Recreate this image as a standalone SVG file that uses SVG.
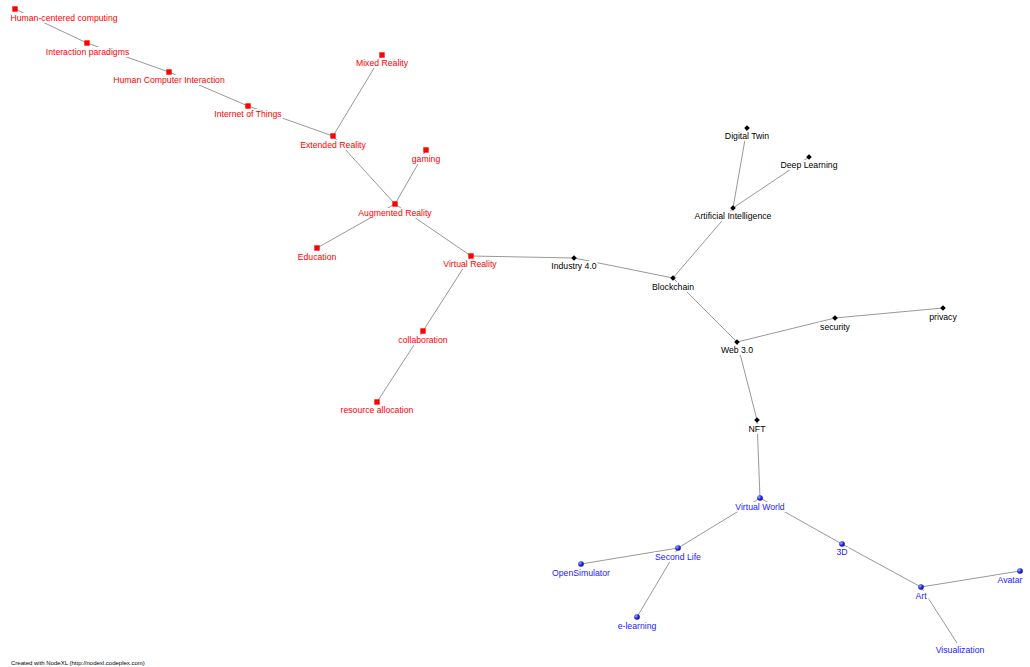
<svg xmlns="http://www.w3.org/2000/svg" xmlns:xlink="http://www.w3.org/1999/xlink" width="1030" height="667" viewBox="0 0 1030 667">
<style>
text{font-family:"Liberation Sans",Arial,sans-serif;font-size:8.7px;text-anchor:middle}
.bgl{fill:#ffffff}
.r text{fill:#ff0000}
.k text{fill:#000000}
.b text{fill:#1a1aff}
#edges line{stroke:#999999;stroke-width:1}
.credit{font-size:6px;text-anchor:start;fill:#000}
</style>
<defs>
<rect id="sq" x="-2.7" y="-2.7" width="5.4" height="5.4" fill="#ff0000"/>
<path id="dm" d="M0,-2.8L2.8,0L0,2.8L-2.8,0Z" fill="#000"/>
<radialGradient id="bg" cx="0.35" cy="0.35" r="0.7"><stop offset="0" stop-color="#aab0ff"/><stop offset="0.5" stop-color="#2233ee"/><stop offset="1" stop-color="#00008a"/></radialGradient>
<circle id="sp" r="2.8" fill="url(#bg)"/>
</defs>
<rect width="1030" height="667" fill="#fff"/>
<g id="edges">
<line x1="15" y1="9" x2="87" y2="43"/>
<line x1="87" y1="43" x2="169" y2="72"/>
<line x1="169" y1="72" x2="248" y2="106"/>
<line x1="248" y1="106" x2="333" y2="136"/>
<line x1="382" y1="55" x2="333" y2="136"/>
<line x1="333" y1="136" x2="395" y2="204"/>
<line x1="426" y1="150" x2="395" y2="204"/>
<line x1="395" y1="204" x2="317" y2="248"/>
<line x1="395" y1="204" x2="471" y2="256"/>
<line x1="471" y1="256" x2="423" y2="331"/>
<line x1="423" y1="331" x2="377" y2="402"/>
<line x1="471" y1="256" x2="574" y2="258"/>
<line x1="574" y1="258" x2="673" y2="278"/>
<line x1="673" y1="278" x2="733" y2="208"/>
<line x1="733" y1="208" x2="747" y2="128"/>
<line x1="733" y1="208" x2="809" y2="157"/>
<line x1="673" y1="278" x2="737" y2="342"/>
<line x1="737" y1="342" x2="835" y2="318"/>
<line x1="835" y1="318" x2="943" y2="308"/>
<line x1="737" y1="342" x2="757" y2="420"/>
<line x1="757" y1="420" x2="760" y2="498"/>
<line x1="760" y1="498" x2="678" y2="548"/>
<line x1="678" y1="548" x2="581" y2="564"/>
<line x1="678" y1="548" x2="637" y2="617"/>
<line x1="760" y1="498" x2="842" y2="544"/>
<line x1="842" y1="544" x2="921" y2="587"/>
<line x1="921" y1="587" x2="1020" y2="571"/>
<line x1="921" y1="587" x2="957" y2="643"/>
</g>
<g class="r">
<g id="n-hcc"><rect class="bgl" x="9.5" y="13" width="109" height="10"/><use href="#sq" x="15" y="9"/><text x="64" y="21">Human-centered computing</text></g>
<g id="n-ip"><rect class="bgl" x="45" y="47" width="85" height="10"/><use href="#sq" x="87" y="43"/><text x="87.5" y="55">Interaction paradigms</text></g>
<g id="n-hci"><rect class="bgl" x="112.5" y="75" width="113" height="10"/><use href="#sq" x="169" y="72"/><text x="169" y="83">Human Computer Interaction</text></g>
<g id="n-iot"><rect class="bgl" x="213.5" y="109" width="69" height="10"/><use href="#sq" x="248" y="106"/><text x="248" y="117">Internet of Things</text></g>
<g id="n-mr"><rect class="bgl" x="355" y="58" width="54" height="10"/><use href="#sq" x="382" y="55"/><text x="382" y="66">Mixed Reality</text></g>
<g id="n-er"><rect class="bgl" x="299.5" y="140" width="67" height="10"/><use href="#sq" x="333" y="136"/><text x="333" y="148">Extended Reality</text></g>
<g id="n-gaming"><rect class="bgl" x="411" y="154" width="30" height="10"/><use href="#sq" x="426" y="150"/><text x="426" y="162">gaming</text></g>
<g id="n-ar"><rect class="bgl" x="357.5" y="208" width="75" height="10"/><use href="#sq" x="395" y="204"/><text x="395" y="216">Augmented Reality</text></g>
<g id="n-edu"><rect class="bgl" x="296.5" y="252" width="41" height="10"/><use href="#sq" x="317" y="248"/><text x="317" y="260">Education</text></g>
<g id="n-vr"><rect class="bgl" x="442" y="259" width="56" height="10"/><use href="#sq" x="471" y="256"/><text x="470" y="267">Virtual Reality</text></g>
<g id="n-collab"><rect class="bgl" x="397.5" y="335" width="51" height="10"/><use href="#sq" x="423" y="331"/><text x="423" y="343">collaboration</text></g>
<g id="n-ra"><rect class="bgl" x="339.5" y="405" width="75" height="10"/><use href="#sq" x="377" y="402"/><text x="377" y="413">resource allocation</text></g>
</g>
<g class="k">
<g id="n-ind"><rect class="bgl" x="550.5" y="261" width="47" height="10"/><use href="#dm" x="574" y="258"/><text x="574" y="269">Industry 4.0</text></g>
<g id="n-bc"><rect class="bgl" x="650.5" y="282" width="45" height="10"/><use href="#dm" x="673" y="278"/><text x="673" y="290">Blockchain</text></g>
<g id="n-ai"><rect class="bgl" x="693.5" y="211" width="79" height="10"/><use href="#dm" x="733" y="208"/><text x="733" y="219">Artificial Intelligence</text></g>
<g id="n-dt"><rect class="bgl" x="723.5" y="131" width="47" height="10"/><use href="#dm" x="747" y="128"/><text x="747" y="139">Digital Twin</text></g>
<g id="n-dl"><rect class="bgl" x="780" y="160" width="58" height="10"/><use href="#dm" x="809" y="157"/><text x="809" y="168">Deep Learning</text></g>
<g id="n-web3"><rect class="bgl" x="720" y="345" width="34" height="10"/><use href="#dm" x="737" y="342"/><text x="737" y="353">Web 3.0</text></g>
<g id="n-sec"><rect class="bgl" x="818.5" y="322" width="33" height="10"/><use href="#dm" x="835" y="318"/><text x="835" y="330">security</text></g>
<g id="n-priv"><rect class="bgl" x="928" y="312" width="30" height="10"/><use href="#dm" x="943" y="308"/><text x="943" y="320">privacy</text></g>
<g id="n-nft"><rect class="bgl" x="747.5" y="424" width="19" height="10"/><use href="#dm" x="757" y="420"/><text x="757" y="432">NFT</text></g>
</g>
<g class="b">
<g id="n-vw"><rect class="bgl" x="734" y="502" width="52" height="10"/><use href="#sp" x="760" y="498"/><text x="760" y="510">Virtual World</text></g>
<g id="n-sl"><rect class="bgl" x="654" y="552" width="48" height="10"/><use href="#sp" x="678" y="548"/><text x="678" y="560">Second Life</text></g>
<g id="n-os"><rect class="bgl" x="551" y="568" width="60" height="10"/><use href="#sp" x="581" y="564"/><text x="581" y="576">OpenSimulator</text></g>
<g id="n-el"><rect class="bgl" x="617" y="621" width="40" height="10"/><use href="#sp" x="637" y="617"/><text x="637" y="629">e-learning</text></g>
<g id="n-3d"><rect class="bgl" x="835.5" y="547" width="13" height="10"/><use href="#sp" x="842" y="544"/><text x="842" y="555">3D</text></g>
<g id="n-art"><rect class="bgl" x="913.5" y="591" width="15" height="10"/><use href="#sp" x="921" y="587"/><text x="921" y="599">Art</text></g>
<g id="n-avatar"><rect class="bgl" x="996.5" y="575" width="27" height="10"/><use href="#sp" x="1020" y="571"/><text x="1010" y="583">Avatar</text></g>
<g id="n-vis"><rect class="bgl" x="934.5" y="644" width="51" height="10"/><text x="960" y="653">Visualization</text></g>
</g>
<text class="credit" x="11" y="665">Created with NodeXL (http://nodexl.codeplex.com)</text>
</svg>
